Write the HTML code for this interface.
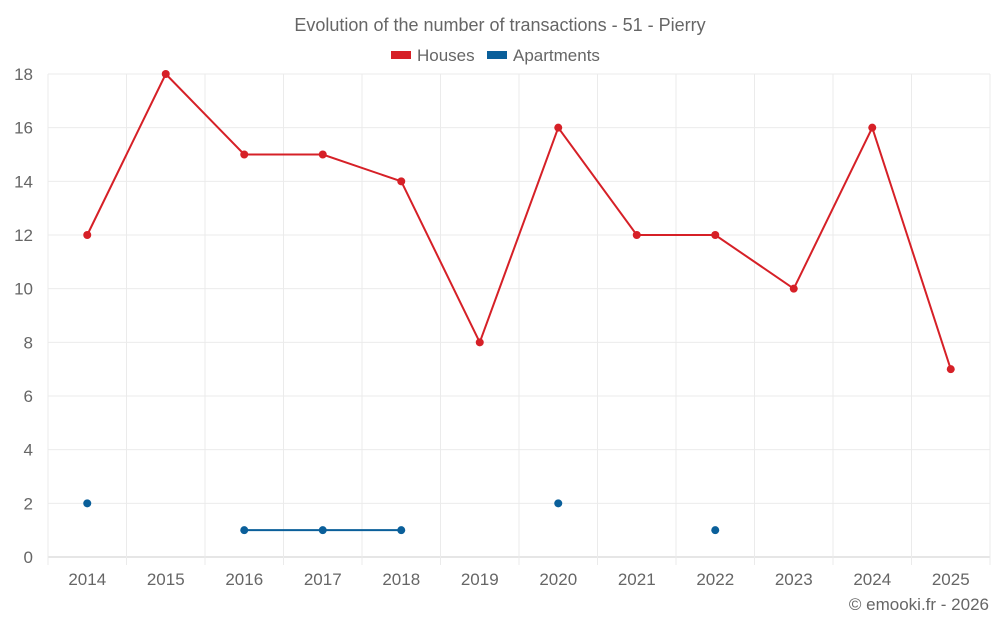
<!DOCTYPE html>
<html><head><meta charset="utf-8">
<style>
body{margin:0;background:#fff;font-family:"Liberation Sans",sans-serif;}
svg text{font-family:"Liberation Sans",sans-serif;fill:#666;}
</style></head>
<body>
<svg id="chart" width="1000" height="625" xmlns="http://www.w3.org/2000/svg">
<text x="500" y="31" text-anchor="middle" font-size="18">Evolution of the number of transactions - 51 - Pierry</text>
<g>
<g><rect x="391" y="51" width="20" height="8" fill="#d62027"/><text x="417" y="61" font-size="17">Houses</text></g>
<g><rect x="487" y="51" width="20" height="8" fill="#0a5f9a"/><text x="513" y="61" font-size="17">Apartments</text></g>
</g>
<g id="grid"></g>
<g id="axes"></g>
<g id="series"></g>
<text x="989" y="610" text-anchor="end" font-size="17">© emooki.fr - 2026</text>
</svg>
<script>
const categories=["2014","2015","2016","2017","2018","2019","2020","2021","2022","2023","2024","2025"];
const houses=[12,18,15,15,14,8,16,12,12,10,16,7];
const apartments=[2,null,1,1,1,null,2,null,1,null,null,null];
const yTicks=[0,2,4,6,8,10,12,14,16,18];

const L=48,R=990,T=74,B=557,yMax=18;
const bw=(R-L)/categories.length;
const x=i=>L+bw*(i+0.5);
const y=v=>B-(v/yMax)*(B-T);
const NS="http://www.w3.org/2000/svg";
function mk(tag,attrs,parent){const e=document.createElementNS(NS,tag);for(const k in attrs)e.setAttribute(k,attrs[k]);parent.appendChild(e);return e;}
const grid=document.getElementById('grid'),axes=document.getElementById('axes'),series=document.getElementById('series');

yTicks.forEach(t=>{
  const l=mk('line',{x1:L,x2:R,y1:y(t),y2:y(t),stroke:t===0?'#ccc':'#ebebeb','stroke-width':1},grid);
  
  
  const tx=mk('text',{x:33,y:y(t)+6,'text-anchor':'end','font-size':17},axes);
  tx.textContent=t;
  
  
});
for(let i=0;i<=categories.length;i++){
  const gx=L+bw*i;
  const l=mk('line',{x1:gx,x2:gx,y1:T,y2:B+8,stroke:'#ebebeb','stroke-width':1},grid);
  
  
}
categories.forEach((c,i)=>{
  const tx=mk('text',{x:x(i),y:585,'text-anchor':'middle','font-size':17},axes);
  tx.textContent=c;
  
  
});

function drawSeries(vals,color,name){
  let seg=[];
  const flush=()=>{if(seg.length>1){const p=mk('polyline',{points:seg.join(' '),fill:'none',stroke:color,'stroke-width':2},series);
    
    }seg=[];};
  vals.forEach((v,i)=>{if(v==null){flush();}else seg.push(x(i)+','+y(v));});
  flush();
  vals.forEach((v,i)=>{if(v==null)return;
    const c=mk('circle',{cx:x(i),cy:y(v),r:4,fill:color},series);
    
    });
}
drawSeries(houses,'#d62027','houses');
drawSeries(apartments,'#0a5f9a','apartments');
</script>
</body></html>
